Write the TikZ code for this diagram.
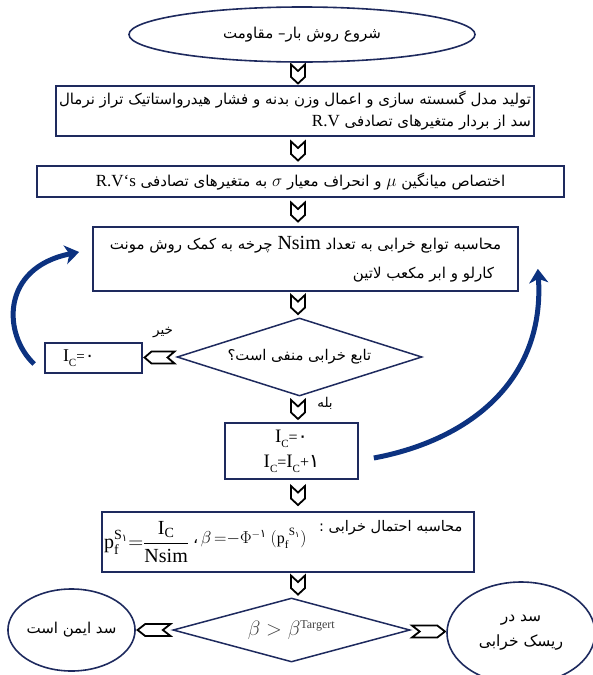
\documentclass[tikz,border=0pt]{standalone}
\usepackage{amsmath}
\usepackage{fontspec}
\setmainfont{Liberation Serif}
\newfontfamily\pfont[Script=Arabic]{DejaVu Sans}
\TeXXeTstate=1
\usetikzlibrary{shapes.geometric,arrows.meta}
\definecolor{navy}{RGB}{30,42,94}
\definecolor{swooshblue}{RGB}{12,50,128}
\newcommand{\fatext}[1]{{\pfont\beginR #1\endR}}
\newcommand{\lat}[1]{\beginL{#1}\endL{}}
\newcommand{\fsize}[2]{\fontsize{#1pt}{#2pt}\selectfont}
\newcommand{\IC}{I\raisebox{-5pt}{\fsize{11}{12}C}}
\begin{document}
\begin{tikzpicture}[x=1pt,y=-1pt,
  box/.style={draw=navy,line width=1.7pt,fill=white,inner sep=3pt},
  dia/.style={diamond,draw=navy,line width=1.5pt,inner sep=0pt,aspect=3.5},
  oval/.style={ellipse,draw=navy,line width=1.6pt,inner sep=0pt},
  swoosh/.style={draw=swooshblue,line width=5pt,-{Stealth[length=14pt,width=19pt,inset=4pt]}},
  chev/.style={draw=black,line width=1.8pt,fill=white,line join=miter},
  chevD/.pic={\path[chev] (-7,-9.5) -- (0,-3) -- (7,-9.5) -- (7,3) -- (0,9.5) -- (-7,3) -- cycle;},
  chevL/.pic={\path[chev] (-15,0) -- (-8,-6) -- (15,-6) -- (8,0) -- (15,6) -- (-8,6) -- cycle;},
  chevR/.pic={\path[chev] (15,0) -- (8,-6) -- (-15,-6) -- (-8,0) -- (-15,6) -- (8,6) -- cycle;}
]
\useasboundingbox (0,0) rectangle (592,675);
\coordinate (ax) at (298,0);

\node[oval,minimum width=346pt,minimum height=55pt,font=\pfont\fsize{15}{18}] (start) at (302,34.5) {\fatext{شروع روش بار– مقاومت}};

\node[box,minimum width=478pt,minimum height=50pt,align=right,font=\pfont\fsize{15}{22}] (b2) at (295,111)
  {\fatext{تولید مدل گسسته سازی و اعمال وزن بدنه و فشار هیدرواستاتیک تراز نرمال}\\\fatext{سد از بردار متغیرهای تصادفی \lat{\rmfamily\fsize{17}{20}R.V}}};

\node[box,minimum width=527pt,minimum height=31pt,font=\pfont\fsize{15}{18}] (b3) at (300.5,181.5)
  {\fatext{اختصاص میانگین \lat{\fsize{17}{20}$\mu$} و انحراف معیار \lat{\fsize{17}{20}$\sigma$} به متغیرهای تصادفی \lat{\rmfamily\fsize{17}{20}R.V`s}}};

\node[box,minimum width=425pt,minimum height=64pt,align=right,font=\pfont\fsize{15}{29}] (b4) at (305.5,259)
  {\fatext{محاسبه توابع خرابی به تعداد \lat{\rmfamily\fsize{20}{29}Nsim} چرخه به کمک روش مونت}\\\fatext{\hspace*{7pt}کارلو و ابر مکعب لاتین}};

\node[dia,minimum width=245pt,minimum height=78pt,font=\pfont\fsize{14.8}{18}] (d1) at (299.5,357) {\fatext{تابع خرابی منفی است؟}};

\node[box,minimum width=97pt,minimum height=30pt,font=\fsize{18}{20}] (ic0) at (93.5,358) {\makebox[89pt][l]{\hspace{14pt}\IC{\fsize{15}{16}=}{\pfont ۰}}};

\node[box,minimum width=133pt,minimum height=56pt,align=center,font=\fsize{19}{25}] (b5) at (291.5,451)
  {\IC{\fsize{16}{16}=}{\pfont ۰}\\\IC{\fsize{16}{16}=}\IC{\fsize{16}{16}+}{\pfont ۱}};

\node[box,minimum width=372pt,minimum height=60pt] (b6) at (288,542) {};
\node[anchor=east,font=\pfont\fsize{14.6}{18}] (b6t) at (466,528) {\fatext{محاسبه احتمال خرابی :}};
\node[anchor=west,inner sep=0pt] (b6f) at (104,542)
  {\fsize{20}{22}$\text{p}_{\text{f}}^{\text{S}_{\text{\pfont ۱}}}{=}\dfrac{\text{I}_{\text{C}}}{\text{Nsim}}$\raisebox{5pt}{\fsize{16}{18}\ {\pfont ،}\,$\beta\,{=}{-}\Phi^{-\text{\pfont ۱}}\ (\text{p}_{\text{f}}^{\ \text{S}_{\text{\pfont ۱}}})$}};

\node[dia,minimum width=237pt,minimum height=64pt,font=\fsize{20}{22},text=black!75] (d2) at (291.5,630) {$\beta>\beta^{\text{\fsize{12}{14}Targert}}$};

\node[oval,minimum width=119pt,minimum height=82pt,font=\pfont\fsize{15}{18}] (ellL) at (71.5,630) {\fatext{سد ایمن است}};
\node[oval,minimum width=148pt,minimum height=102pt,align=center,font=\pfont\fsize{15.5}{25}] (ellR) at (521,633) {\fatext{سد در}\\\fatext{ریسک خرابی}};

\node[font=\pfont\fsize{13.5}{16}] (no) at (163,333) {\fatext{خیر}};
\node[font=\pfont\fsize{13.5}{16}] (yes) at (325,403) {\fatext{بله}};

% blue loop-back arrows
\draw[swoosh] ([shift={(-10,6)}]ic0.west) .. controls (3,335) and (0,268) .. ([shift={(-13,-7)}]b4.west);
\draw[swoosh] ([shift={(15,7)}]b5.east) .. controls (470,440) and (545,380) .. ([shift={(19,-23)}]b4.south east);

% chevron connectors
\path (ax |- start.south) -- (ax |- b2.north) pic[midway]{chevD};
\path (ax |- b2.south) -- (ax |- b3.north) pic[midway]{chevD};
\path (ax |- b3.south) -- (ax |- b4.north) pic[midway]{chevD};
\path (ax |- b4.south) -- (ax |- d1.north) pic[midway]{chevD};
\path (ax |- d1.south) -- (ax |- b5.north) pic[midway]{chevD};
\path (ax |- b5.south) -- (ax |- b6.north) pic[midway]{chevD};
\path (ax |- b6.south) -- (ax |- d2.north) pic[midway]{chevD};
\path (d1.west) -- (ic0.east) pic[midway]{chevL};
\path (d2.west) -- (ellL.east) pic[midway,xscale=1.1]{chevL};
\path (d2.east) -- (ellR.west) pic[midway,xscale=1.1]{chevR};
\end{tikzpicture}
\end{document}
